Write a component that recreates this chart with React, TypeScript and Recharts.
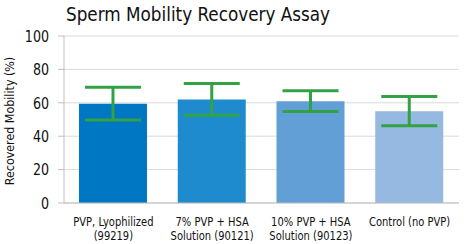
import React from 'react';
import { BarChart, Bar, XAxis, YAxis, CartesianGrid, ErrorBar, Cell } from 'recharts';

const categories = ['PVP, Lyophilized (99219)', '7% PVP + HSA Solution (90121)', '10% PVP + HSA Solution (90123)', 'Control (no PVP)'];
const tickLines = [
  ['PVP, Lyophilized', '(99219)'],
  ['7% PVP + HSA', 'Solution (90121)'],
  ['10% PVP + HSA', 'Solution (90123)'],
  ['Control (no PVP)'],
];
const mobility = [59.5, 62, 61, 55];
const errors = [9.8, 9.5, 6.2, 8.8];
const barColors = ['#0077c2', '#1e8bce', '#619fd6', '#95b9e1'];
const yTicks = [0, 20, 40, 60, 80, 100];

const data = categories.map((c, i) => ({ name: c, value: mobility[i], err: errors[i] }));

const FONT = '"DejaVu Sans Condensed", "DejaVu Sans", sans-serif';

function CategoryTick(props: any) {
  const { x, payload } = props;
  const lines = tickLines[payload.index] || [];
  return (
    <g transform={`translate(${x},0) scale(0.9,1)`}>
      {lines.map((l, i) => (
        <text key={i} x={0} y={226 + i * 14} textAnchor="middle" fontFamily={FONT} fontSize={12.3} fill="#111">{l}</text>
      ))}
    </g>
  );
}

function ValueTick(props: any) {
  const { x, y, payload } = props;
  return (
    <g transform={`translate(${x},${y}) scale(0.88,1)`}>
      <text x={0} y={0} dy={5.8} textAnchor="end" fontFamily={FONT} fontSize={16} fill="#111">{payload.value}</text>
    </g>
  );
}

export default function App() {
  return (
    <div style={{ position: 'fixed', left: 0, top: 0, width: 465, height: 244, background: '#fff' }}>
      <div style={{ position: 'absolute', left: 66, top: 3, fontFamily: FONT, fontSize: 19.7, color: '#111', whiteSpace: 'nowrap', transform: 'scaleX(0.95)', transformOrigin: 'left top' }}>
        Sperm Mobility Recovery Assay
      </div>
      <div style={{ position: 'absolute', left: 9, top: 121, width: 0, height: 0 }}>
        <div style={{ position: 'absolute', left: 0, top: 0, transform: 'translate(-50%, -50%) rotate(-90deg) scale(0.95,1)', whiteSpace: 'nowrap', fontFamily: FONT, fontSize: 13, color: '#111' }}>
          Recovered Mobility (%)
        </div>
      </div>
      <BarChart width={465} height={244} data={data} margin={{ top: 36, right: 6, bottom: 0, left: 0 }} barSize={68}>
        <CartesianGrid vertical={false} stroke="#d9d9d9" />
        <XAxis dataKey="name" height={41} tick={<CategoryTick />} tickLine={false} axisLine={{ stroke: '#bfbfbf' }} interval={0} />
        <YAxis width={64} domain={[0, 100]} ticks={yTicks} tickSize={6} tickMargin={9} tickLine={{ stroke: '#bfbfbf' }} axisLine={{ stroke: '#bfbfbf' }} tick={<ValueTick />} />
        <Bar dataKey="value" isAnimationActive={false}>
          {data.map((d, i) => (
            <Cell key={i} fill={barColors[i]} />
          ))}
          <ErrorBar dataKey="err" width={28} strokeWidth={3} stroke="#33a245" />
        </Bar>
      </BarChart>
    </div>
  );
}
